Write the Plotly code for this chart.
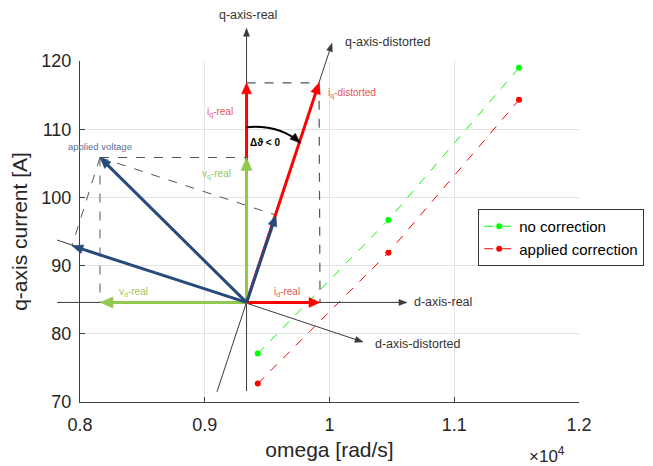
import plotly.graph_objects as go
import math

# ---------------- data ----------------
omega = [9425, 10472, 11519]                 # rad/s
iq_no_correction = [77.1, 96.7, 119.0]        # A
iq_applied_correction = [72.7, 91.9, 114.3]   # A

x_ticks = [8000, 9000, 10000, 11000, 12000]
x_ticktext = ["0.8", "0.9", "1", "1.1", "1.2"]
y_ticks = [70, 80, 90, 100, 110, 120]

X_RANGE = [8000, 12000]
Y_RANGE = [70, 120]

# ---------------- phasor sketch (in axis units) ----------------
origin = (9335, 84.6)
q_real_axis = [(9335, 71.6), (9335, 124.8)]
q_dist_axis = [(9098, 71.5), (10020, 122.6)]
d_real_axis = [(7816, 84.6), (10621, 84.6)]
d_dist_axis = [(7816, 93.75), (10269, 78.8)]
iq_real_tip = (9335, 116.8)
iq_dist_tip = (9916, 116.8)
id_real_tip = (9924, 84.6)
vq_real_tip = (9335, 105.85)
vd_real_tip = (8160, 84.6)
v_applied_tip = (8160, 105.85)
v_d_dist_tip = (7936, 92.9)
v_q_dist_tip = (9571, 97.4)
arc_pts = [(9335, 110.3), (9600, 110.7), (9764, 108.0)]

W_PLOT, H_PLOT = 499, 341
ML, MR, MT, MB = 80, 74, 61, 64


def to_paper(p):
    x, y = p
    return ((x - X_RANGE[0]) / (X_RANGE[1] - X_RANGE[0]),
            (y - Y_RANGE[0]) / (Y_RANGE[1] - Y_RANGE[0]))


def to_pix(p):
    px, py = to_paper(p)
    return px * W_PLOT, py * H_PLOT


def pix_to_paper(X, Y):
    return X / W_PLOT, Y / H_PLOT


shapes = []


def line(p0, p1, color, width, dash="solid"):
    a = to_paper(p0)
    b = to_paper(p1)
    shapes.append(dict(type="line", xref="paper", yref="paper",
                       x0=a[0], y0=a[1], x1=b[0], y1=b[1],
                       line=dict(color=color, width=width, dash=dash),
                       layer="above"))


def head(tip_pix, u, color, L, w):
    tx, ty = tip_pix
    ux, uy = u
    nx, ny = -uy, ux
    bx, by = tx - L * ux, ty - L * uy
    c1 = pix_to_paper(bx + w / 2 * nx, by + w / 2 * ny)
    c2 = pix_to_paper(bx - w / 2 * nx, by - w / 2 * ny)
    t = pix_to_paper(tx, ty)
    path = f"M {t[0]},{t[1]} L {c1[0]},{c1[1]} L {c2[0]},{c2[1]} Z"
    shapes.append(dict(type="path", xref="paper", yref="paper", path=path,
                       fillcolor=color, line=dict(color=color, width=0.5),
                       layer="above"))


def arrow(p0, p1, color, width, L=10, w=9, dash="solid"):
    X0, Y0 = to_pix(p0)
    X1, Y1 = to_pix(p1)
    d = math.hypot(X1 - X0, Y1 - Y0)
    u = ((X1 - X0) / d, (Y1 - Y0) / d)
    Xe, Ye = X1 - 0.7 * L * u[0], Y1 - 0.7 * L * u[1]
    a = pix_to_paper(X0, Y0)
    b = pix_to_paper(Xe, Ye)
    shapes.append(dict(type="line", xref="paper", yref="paper",
                       x0=a[0], y0=a[1], x1=b[0], y1=b[1],
                       line=dict(color=color, width=width, dash=dash),
                       layer="above"))
    head((X1, Y1), u, color, L, w)


AX = "#3a3a3a"
DASH = "#555555"
RED = "#ff0000"
GREEN = "#92c84f"
BLUE = "#264a7a"

# dashed helper lines
line(iq_real_tip, iq_dist_tip, DASH, 1.2, "dash")
line(iq_dist_tip, id_real_tip, DASH, 1.2, "dash")
line(v_applied_tip, vq_real_tip, DASH, 1.0, "dash")
line(v_applied_tip, vd_real_tip, DASH, 1.0, "dash")
line(v_applied_tip, v_q_dist_tip, DASH, 1.0, "dash")
line(v_applied_tip, v_d_dist_tip, DASH, 1.0, "dash")

# axes of the sketch
arrow(q_real_axis[0], q_real_axis[1], AX, 1, L=8, w=6)
arrow(q_dist_axis[0], q_dist_axis[1], AX, 1, L=8, w=6)
arrow(d_real_axis[0], d_real_axis[1], AX, 1, L=8, w=6)
arrow(d_dist_axis[0], d_dist_axis[1], AX, 1, L=8, w=6)

# current phasors
arrow(origin, iq_real_tip, RED, 3, L=11, w=10)
arrow(origin, iq_dist_tip, RED, 3, L=11, w=10)
arrow(origin, id_real_tip, RED, 3, L=11, w=10)

# voltage phasors
arrow(origin, vq_real_tip, GREEN, 3, L=13, w=11)
arrow(origin, vd_real_tip, GREEN, 3, L=13, w=11)
arrow(origin, v_applied_tip, BLUE, 3, L=11, w=9)
arrow(origin, v_d_dist_tip, BLUE, 3, L=11, w=9)
arrow(origin, v_q_dist_tip, BLUE, 3, L=11, w=9)

# angle arc
a0, a1, a2 = [to_paper(p) for p in arc_pts]
shapes.append(dict(type="path", xref="paper", yref="paper",
                   path=f"M {a0[0]},{a0[1]} Q {a1[0]},{a1[1]} {a2[0]},{a2[1]}",
                   line=dict(color="black", width=2), layer="above"))
P1 = to_pix(arc_pts[1]); P2 = to_pix(arc_pts[2])
dd = math.hypot(P2[0] - P1[0], P2[1] - P1[1])
head(P2, ((P2[0] - P1[0]) / dd, (P2[1] - P1[1]) / dd), "black", 10, 8)

# ---------------- figure ----------------
fig = go.Figure()
fig.add_trace(go.Scatter(x=omega, y=iq_no_correction, name="no correction",
                         mode="lines+markers",
                         line=dict(color="#00ff00", width=1, dash="dash"),
                         marker=dict(color="#00ff00", size=6)))
fig.add_trace(go.Scatter(x=omega, y=iq_applied_correction, name="applied correction",
                         mode="lines+markers",
                         line=dict(color="#ff0000", width=1, dash="dash"),
                         marker=dict(color="#ff0000", size=6)))

FONT = "Liberation Sans, Arial, sans-serif"


def lab(p, text, color, size=10, xanchor="center", bold=False):
    px, py = to_paper(p)
    if bold:
        text = f"<b>{text}</b>"
    return dict(x=px, y=py, xref="paper", yref="paper", text=text,
                showarrow=False, xanchor=xanchor, yanchor="middle",
                font=dict(family=FONT, size=size, color=color))


LRED = "#e8545a"
LGREEN = "#9cc65a"
LBLUE = "#5a6f92"
annotations = [
    lab((9347, 126.7), "q-axis-real", "#333333", 12.5),
    lab((10108, 122.8), "q-axis-distorted", "#333333", 12.5, "left"),
    lab((10661, 84.66), "d-axis-real", "#333333", 12.5, "left"),
    lab((10349, 78.5), "d-axis-distorted", "#333333", 12.5, "left"),
    lab((9122, 112.5), "i<sub>q</sub>-real", LRED, 10),
    lab((9972, 115.3), "i<sub>q</sub>-distorted", LRED, 10, "left"),
    lab((9659, 86.1), "i<sub>d</sub>-real", LRED, 10),
    lab((9347, 108.1), "Δϑ < 0", "black", 10, "left", bold=True),
    lab((9098, 103.3), "v<sub>q</sub>-real", LGREEN, 10),
    lab((8425, 86.1), "v<sub>d</sub>-real", LGREEN, 10),
    lab((8160, 107.5), "applied voltage", LBLUE, 9.5),
    dict(x=0.935, y=-0.155, xref="paper", yref="paper", text="×10<sup>4</sup>",
         showarrow=False, xanchor="center", yanchor="middle",
         font=dict(family=FONT, size=17, color="#262626")),
]

fig.update_layout(
    width=653, height=466,
    margin=dict(l=ML, r=MR, t=MT, b=MB, autoexpand=False),
    paper_bgcolor="white", plot_bgcolor="white",
    font=dict(family=FONT, size=18, color="#262626"),
    shapes=shapes, annotations=annotations,
    showlegend=True,
    legend=dict(x=0.798, y=0.566, xanchor="left", yanchor="top",
                bgcolor="white", bordercolor="#333333", borderwidth=1,
                font=dict(family=FONT, size=15, color="black"),
                itemwidth=30, tracegroupgap=0),
)
fig.update_xaxes(range=X_RANGE, tickvals=x_ticks, ticktext=x_ticktext,
                 automargin=False,
                 showgrid=True, gridcolor="#e3e3e3", zeroline=False,
                 showline=True, linecolor="#404040", linewidth=1,
                 ticks="inside", ticklen=5, tickcolor="#404040",
                 tickfont=dict(size=18), ticklabelstandoff=6,
                 title=dict(text="omega [rad/s]", font=dict(size=21), standoff=8))
fig.update_yaxes(range=Y_RANGE, tickvals=y_ticks,
                 automargin=False,
                 showgrid=True, gridcolor="#e3e3e3", zeroline=False,
                 showline=True, linecolor="#404040", linewidth=1,
                 ticks="inside", ticklen=5, tickcolor="#404040",
                 tickfont=dict(size=18), ticklabelstandoff=4,
                 title=dict(text="q-axis current [A]", font=dict(size=21), standoff=8))

fig.write_html("out.html")
